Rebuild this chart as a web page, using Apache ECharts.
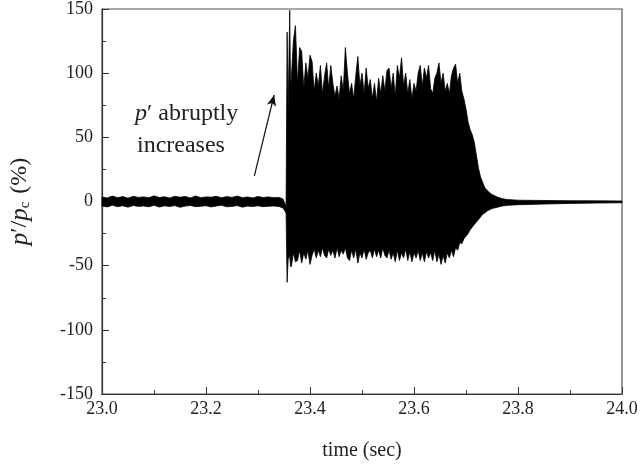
<!DOCTYPE html>
<html>
<head>
<meta charset="utf-8">
<script src="https://cdn.jsdelivr.net/npm/echarts@6/dist/echarts.min.js"></script>
<style>html,body{margin:0;padding:0;background:#fff}#c{width:641px;height:468px}</style>
</head>
<body>
<div id="c"></div>
<script>
// time samples (sec)
const times = [
23.00,23.01,23.02,23.03,23.04,23.05,23.06,23.07,23.08,23.09,
23.10,23.11,23.12,23.13,23.14,23.15,23.16,23.17,23.18,23.19,
23.20,23.21,23.22,23.23,23.24,23.25,23.26,23.27,23.28,23.29,
23.30,23.31,23.32,23.33,23.34,
23.348,23.352,23.354,23.356,23.358,23.361,23.3625,
23.364,23.368,23.372,23.376,23.380,23.384,23.388,23.392,23.396,23.400,
23.404,23.408,23.412,23.416,23.420,23.424,23.428,23.432,23.436,23.440,
23.444,23.448,23.452,23.456,23.460,23.464,23.468,23.472,23.476,23.480,
23.484,23.488,23.492,23.496,23.500,23.504,23.508,23.512,23.516,23.520,
23.524,23.528,23.532,23.536,23.540,23.544,23.548,23.552,23.556,23.560,
23.564,23.568,23.572,23.576,23.580,23.584,23.588,23.592,23.596,23.600,
23.604,23.608,23.612,23.616,23.620,23.624,23.628,23.632,23.636,23.640,
23.644,23.648,23.652,23.656,23.660,23.664,23.668,23.672,23.676,23.680,
23.684,23.688,23.692,23.696,23.700,
23.704,23.708,23.712,23.716,23.720,23.724,23.728,23.732,23.736,23.740,
23.745,23.750,23.760,23.770,23.780,23.800,23.850,23.900,23.950,24.000
];
// upper envelope of p'/pc (%)
const upper = [
3.5,2.8,4.2,3.0,3.8,2.6,4.0,3.2,3.6,2.9,
4.4,3.1,3.7,2.7,4.1,3.3,3.9,2.8,4.3,3.0,
3.6,3.4,4.0,2.9,3.8,3.2,4.2,3.0,3.5,2.8,
3.9,3.1,3.6,3.0,3.2,
2.0,-2,-4,132,70,149,90,
95,125,137,92,120,117,88,108,96,114,
109,86,100,90,106,84,98,108,88,106,
92,82,90,80,98,86,120,100,84,92,
80,98,113,90,100,84,104,88,95,80,
92,78,96,84,98,86,102,104,88,100,
82,106,96,112,90,100,84,95,80,92,
86,100,106,90,104,96,106,88,84,96,
100,108,92,100,86,92,84,98,104,107,
92,100,86,80,72,
62,56,52,46,36,26,19,15,11,9,
7,5.5,3.5,2.2,1.5,1.0,0.8,0.6,0.5,0.4
];
// lower envelope of p'/pc (%)
const lower = [
-3.6,-4.2,-2.9,-4.0,-3.3,-4.4,-3.1,-3.8,-3.5,-4.1,
-3.0,-4.3,-3.4,-3.9,-3.2,-4.5,-3.6,-3.1,-4.0,-3.7,
-3.3,-4.2,-3.5,-3.0,-4.1,-3.8,-3.2,-4.4,-3.6,-3.9,
-3.3,-4.0,-3.7,-3.5,-3.8,
-5,-7.5,-9,-63,-45,-42,-50,
-51,-40,-47,-46,-38,-48,-40,-45,-38,-49,
-42,-37,-44,-38,-43,-36,-42,-44,-37,-42,
-38,-44,-36,-43,-38,-41,-36,-44,-46,-38,
-44,-37,-48,-40,-44,-37,-45,-40,-38,-44,
-37,-43,-38,-44,-36,-42,-44,-38,-45,-40,
-47,-38,-46,-40,-44,-37,-46,-39,-47,-40,
-44,-38,-46,-40,-47,-39,-44,-40,-46,-38,
-47,-41,-49,-42,-48,-40,-44,-38,-43,-36,
-38,-32,-33,-29,-27,
-25,-22,-20,-18,-16,-14,-12,-10,-9,-7.5,
-6.5,-5.5,-4.5,-3.5,-3,-2.5,-2,-1.5,-1.2,-1
];
const xTicks = [23.0, 23.2, 23.4, 23.6, 23.8, 24.0];
const yTicks = [-150, -100, -50, 0, 50, 100, 150];
// annotation arrow (tail, head) in data space
const arrowTail = [23.293, 20];
const arrowHead = [23.331, 83];

const bandData = times.map((t, i) => [t, upper[i], lower[i]]);
const serif = 'Liberation Serif';

function renderBand(params, api) {
  if (params.dataIndex !== 0) return null;
  const pts = [];
  for (let i = 0; i < times.length; i++) pts.push(api.coord([times[i], upper[i]]));
  for (let i = times.length - 1; i >= 0; i--) pts.push(api.coord([times[i], lower[i]]));
  return {type: 'polygon', shape: {points: pts}, style: {fill: '#000', stroke: '#000', lineWidth: 0.8, lineJoin: 'miter'}};
}

const chart = echarts.init(document.getElementById('c'), null, {renderer: 'canvas'});
chart.setOption({
  animation: false,
  backgroundColor: '#fff',
  grid: {left: 100, right: 19, top: 8, bottom: 74, show: true, borderColor: '#555', borderWidth: 1.2, containLabel: false},
  xAxis: {
    type: 'value', min: 23, max: 24, interval: 0.2,
    axisLine: {show: true, onZero: false, lineStyle: {color: '#333', width: 1.2}},
    axisTick: {show: true, inside: true, length: 7, lineStyle: {color: '#333'}},
    minorTick: {show: true, splitNumber: 2, length: 4, lineStyle: {color: '#333'}},
    splitLine: {show: false},
    axisLabel: {color: '#222', fontFamily: serif, fontSize: 18, margin: 6,
      formatter: v => xTicks.some(t => Math.abs(t - v) < 1e-6) ? v.toFixed(1) : ''},
    name: 'time (sec)', nameLocation: 'middle', nameGap: 47,
    nameTextStyle: {color: '#222', fontFamily: serif, fontSize: 20}
  },
  yAxis: {
    type: 'value', min: -150, max: 150, interval: 50,
    axisLine: {show: true, onZero: false, lineStyle: {color: '#333', width: 1.2}},
    axisTick: {show: true, inside: true, length: 7, lineStyle: {color: '#333'}},
    minorTick: {show: true, splitNumber: 2, length: 4, lineStyle: {color: '#333'}},
    splitLine: {show: false},
    axisLabel: {color: '#222', fontFamily: serif, fontSize: 18, margin: 9,
      formatter: v => yTicks.includes(v) ? String(v) : ''},
    name: "{i|p}{n|′/}{i|p}{s|c}{n| (%)}", nameLocation: 'middle', nameGap: 64, nameRotate: 90,
    nameTextStyle: {
      color: '#222', fontFamily: serif, fontSize: 23,
      rich: {
        i: {fontFamily: serif, fontStyle: 'italic', fontSize: 25, color: '#222', lineHeight: 30, verticalAlign: 'top'},
        n: {fontFamily: serif, fontSize: 24, color: '#222', lineHeight: 30, verticalAlign: 'top'},
        s: {fontFamily: serif, fontSize: 15, color: '#222', lineHeight: 30, verticalAlign: 'top', padding: [10, 2, 0, 0]}
      }
    }
  },
  series: [
    {
      type: 'custom', data: bandData, renderItem: renderBand,
      encode: {x: 0, y: [1, 2]}, z: 2, silent: true
    },
    {
      type: 'line', data: [], showSymbol: false,
      markLine: {
        silent: true, symbol: ['none', 'arrow'], symbolSize: [7, 11],
        lineStyle: {color: '#111', width: 1.2, type: 'solid'}, label: {show: false},
        data: [[{coord: arrowTail}, {coord: arrowHead}]]
      }
    }
  ],
  graphic: [
    {type: 'text', left: 135, top: 102, style: {
      text: "{i|p}{n|′ abruptly}", fill: '#222',
      rich: {
        i: {fontFamily: serif, fontStyle: 'italic', fontSize: 24, fill: '#222'},
        n: {fontFamily: serif, fontSize: 24, fill: '#222'}
      }}},
    {type: 'text', left: 137, top: 134, style: {text: 'increases', fontFamily: serif, fontSize: 24, fill: '#222'}}
  ]
});
</script>
</body>
</html>
